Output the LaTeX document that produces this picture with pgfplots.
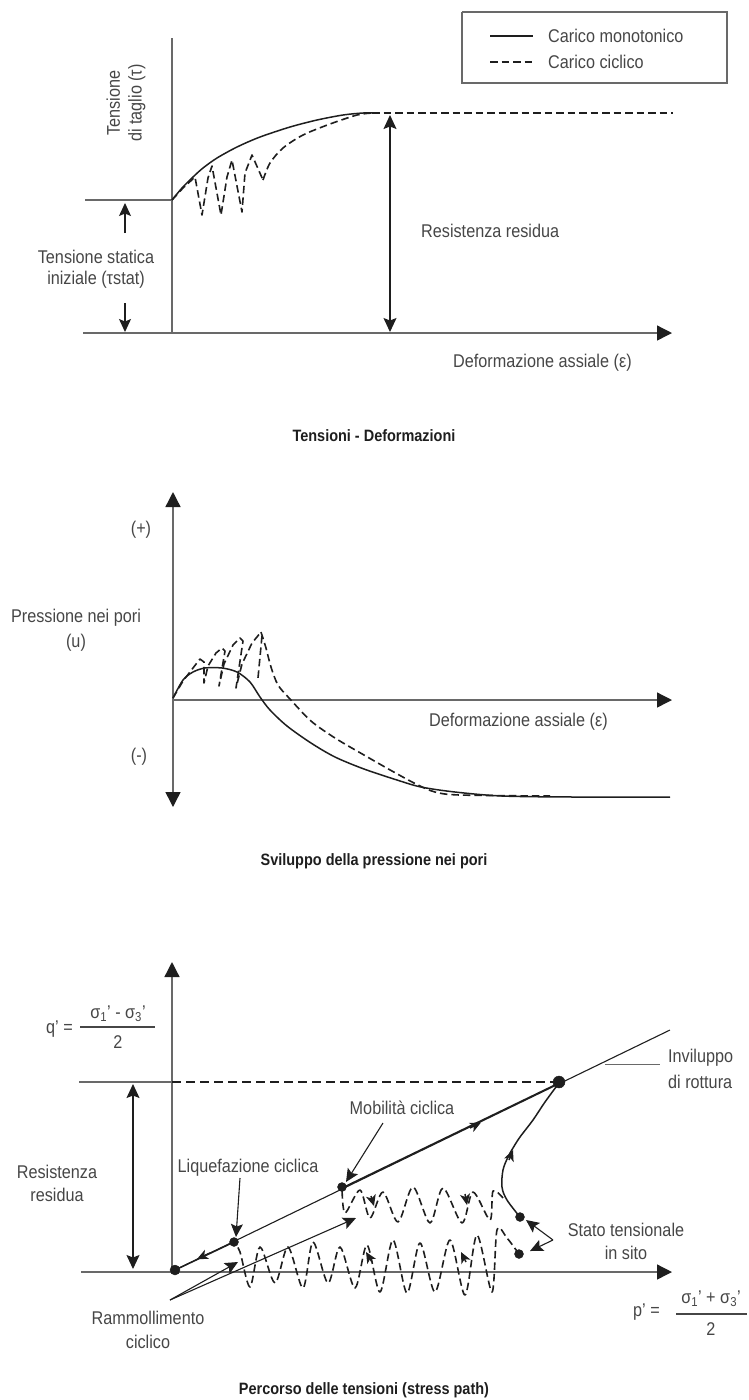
\documentclass[border=0pt]{standalone}
\usepackage{fontspec}
\setmainfont{Liberation Sans}[FakeStretch=0.88]
\usepackage{pgfplots}
\pgfplotsset{compat=1.18}
\usetikzlibrary{arrows.meta}
\definecolor{txt}{RGB}{70,70,70}
\definecolor{axc}{RGB}{105,105,105}
\definecolor{ln}{RGB}{30,30,30}
\tikzset{
 ax/.style={draw=axc, line width=1.4bp},
 crv/.style={draw=ln, line width=1.5bp, line join=round},
 thn/.style={draw=ln, line width=1.1bp},
 dsh/.style={draw=ln, line width=1.6bp, dash pattern=on 7.5bp off 4bp, line join=round},
 lbl/.style={text=txt, font=\fontsize{18.5}{22}\selectfont, inner sep=0pt, align=center},
 ttl/.style={text=ln, font=\fontsize{16.5}{19}\selectfont\bfseries, inner sep=0pt},
 big/.style={-{Triangle[length=15bp,width=15bp,color=ln]}},
 sm/.style={-{Stealth[length=13bp,width=12bp,inset=2.5bp]}},
 smm/.style={-{Stealth[length=11bp,width=10bp,inset=3bp]}},
 dot/.style={only marks, mark=*, mark options={fill=ln, draw=ln}},
}
\begin{document}
\begin{tikzpicture}
\begin{axis}[x=1bp, y=1bp, xmin=0, xmax=749, ymin=0, ymax=1400, y dir=reverse,
  hide axis, clip=false, scale only axis]
\addplot[draw=none] coordinates {(0,0) (749,1400)};
% ================= PANEL 1 =================
\addplot[draw=axc, line width=1.1bp] coordinates {(462,12) (727,12) (727,83) (462,83) (462,12)};
\addplot[thn] coordinates {(490,36) (533,36)};
\addplot[dsh] coordinates {(490,62) (533,62)};
\node[lbl, anchor=west] at (axis cs:548,36) {Carico monotonico};
\node[lbl, anchor=west] at (axis cs:548,62) {Carico ciclico};
\addplot[ax] coordinates {(85,200) (172,200)};
\addplot[ax] coordinates {(172,38) (172,333)};
\addplot[ax, big] coordinates {(83,333) (672,333)};
% monotonic
\addplot[crv, smooth, tension=0.5] coordinates {(172,200) (182,188) (193,177) (203,168) (217,158) (237,147) (260,137) (290,127) (317,120) (343,115) (363,113) (375,113)};
% cyclic
\addplot[dsh] coordinates {(172,200) (183,188) (195,177) (202,215) (208,178) (212,166) (221,215) (227,177) (232,160) (242,212) (245,173) (252,155) (263,180)};
\addplot[dsh, smooth, tension=0.5] coordinates {(263,180) (270,163) (283,148) (303,135) (330,124) (357,115) (372,113)};
\addplot[dsh] coordinates {(372,113) (673,113)};
% arrows
\addplot[draw=ln, line width=1.2bp, {Stealth[length=14bp,width=13bp,inset=2.5bp]}-{Stealth[length=14bp,width=13bp,inset=2.5bp]}] coordinates {(390,115) (390,332)};
\addplot[draw=ln, line width=1.1bp, sm] coordinates {(125,233) (125,203)};
\addplot[draw=ln, line width=1.1bp, sm] coordinates {(125,303) (125,332)};
\node[lbl, rotate=90] at (axis cs:126,103) {Tensione\\di taglio (τ)};
\node[lbl] at (axis cs:96,257) {Tensione statica};
\node[lbl] at (axis cs:96,280) {iniziale (τstat)};
\node[lbl, anchor=west] at (axis cs:421,231) {Resistenza residua};
\node[lbl, anchor=west] at (axis cs:453,363) {Deformazione assiale (ε)};
\node[ttl] at (axis cs:374,436) {Tensioni - Deformazioni};
% ================= PANEL 2 =================
\addplot[ax, {Triangle[length=15bp,width=15bp,color=ln]}-{Triangle[length=15bp,width=15bp,color=ln]}] coordinates {(173,807) (173,492)};
\addplot[ax, big] coordinates {(173,700) (672,700)};
\addplot[crv, smooth, tension=0.5] coordinates {(173,698) (183,680) (193,672) (205,668) (222,668) (237,672) (250,682) (260,697) (270,710) (287,726) (311,743) (335,757) (364,769) (397,780) (421,787) (455,792) (502,796) (574,797) (670,797)};
\addplot[dsh] coordinates {(173,698) (183,681) (193,668) (200,659) (204,662) (204,683) (208,666) (216,653) (222,648) (225,651) (219,686) (224,664) (233,645) (240,638) (243,641) (236,688) (242,664) (252,643) (261,632)};
\addplot[dsh] coordinates {(262,636) (258,678)};
\addplot[dsh, smooth, tension=0.5] coordinates {(261,632) (266,648) (271,667) (278,685) (290,699) (311,721) (335,738) (364,755) (392,771) (416,784) (435,792) (460,795) (550,796)};
\node[lbl] at (axis cs:141,530) {(+)};
\node[lbl] at (axis cs:139,757) {(-)};
\node[lbl] at (axis cs:76,618) {Pressione nei pori};
\node[lbl] at (axis cs:76,643) {(u)};
\node[lbl, anchor=west] at (axis cs:429,722) {Deformazione assiale (ε)};
\node[ttl] at (axis cs:374,861) {Sviluppo della pressione nei pori};
% ================= PANEL 3 =================
\addplot[ax, big] coordinates {(172,1272) (172,962)};
\addplot[ax, big] coordinates {(81,1272) (672,1272)};
\addplot[ax] coordinates {(79,1082) (172,1082)};
\addplot[draw=ln, line width=1.6bp, dash pattern=on 9bp off 5bp] coordinates {(172,1082) (555,1082)};
\addplot[thn] coordinates {(175,1270) (670,1030)};
\addplot[axc, line width=1bp] coordinates {(605,1064) (660,1064)};
% stress paths
\addplot[crv] coordinates {(342,1188) (559,1083)};
\addplot[crv, smm] coordinates {(470,1128) (481,1122.5)};
\addplot[crv] coordinates {(234,1242) (175,1270)};
\addplot[crv, smm] coordinates {(210,1253) (197,1259)};
\addplot[crv, smooth, tension=0.55] coordinates {(520,1217) (507,1200) (502,1187) (503,1170) (508,1157) (513,1148) (520,1137) (533,1120) (545,1102) (559,1083)};
\addplot[crv, smm] coordinates {(509,1160) (513,1150)};
% cyclic upper row
\addplot[dsh, smooth, tension=0.5] coordinates {(503,1198) (493,1191) (490,1220) (473,1192) (462,1223) (443,1188) (430,1223) (413,1187) (398,1222) (383,1192) (370,1218) (360,1190) (345,1213) (342,1188)};
% cyclic lower row
\addplot[dsh, smooth, tension=0.5] coordinates {(519,1254) (507,1238) (497,1230) (492,1292) (477,1235) (465,1295) (450,1240) (435,1292) (420,1243) (407,1293) (393,1240) (380,1292) (367,1245) (355,1288) (340,1247) (328,1283) (313,1242) (303,1288) (288,1247) (275,1283) (260,1247) (250,1287) (240,1252) (234,1242)};
\addplot[crv, smm] coordinates {(371,1196) (374,1206)};
\addplot[crv, smm] coordinates {(465,1194) (467,1205)};
\addplot[crv, smm] coordinates {(372,1262) (366,1252)};
\addplot[crv, smm] coordinates {(466,1262) (461,1252)};
% annotation arrows
\addplot[thn, sm] coordinates {(170,1300) (238,1262)};
\addplot[thn, sm] coordinates {(170,1300) (356,1218)};
\addplot[thn, sm] coordinates {(240,1178) (236,1237)};
\addplot[thn, sm] coordinates {(383,1123) (346,1182)};
\addplot[thn, sm] coordinates {(553,1240) (526,1220)};
\addplot[thn, sm] coordinates {(553,1240) (530,1251)};
\addplot[draw=ln, line width=1.2bp, {Stealth[length=14bp,width=13bp,inset=2.5bp]}-{Stealth[length=14bp,width=13bp,inset=2.5bp]}] coordinates {(133,1084) (133,1269)};
% dots
\addplot[dot, mark size=6bp] coordinates {(559,1082)};
\addplot[dot, mark size=5bp] coordinates {(175,1270)};
\addplot[dot, mark size=4.5bp] coordinates {(234,1242) (342,1187) (520,1217) (519,1254)};
% labels
\node[lbl, anchor=east] at (axis cs:73,1029) {q' =};
\node[lbl] at (axis cs:118,1014) {σ\textsubscript{1}' - σ\textsubscript{3}'};
\addplot[draw=txt, line width=1.1bp] coordinates {(80,1027) (155,1027)};
\node[lbl] at (axis cs:118,1042) {2};
\node[lbl, anchor=east] at (axis cs:660,1312) {p' =};
\node[lbl] at (axis cs:711,1299) {σ\textsubscript{1}' + σ\textsubscript{3}'};
\addplot[draw=txt, line width=1.1bp] coordinates {(676,1314) (747,1314)};
\node[lbl] at (axis cs:711,1329) {2};
\node[lbl, anchor=west] at (axis cs:668,1058) {Inviluppo};
\node[lbl, anchor=west] at (axis cs:668,1082) {di rottura};
\node[lbl] at (axis cs:402,1108) {Mobilità ciclica};
\node[lbl] at (axis cs:248,1168) {Liquefazione ciclica};
\node[lbl] at (axis cs:57,1172) {Resistenza};
\node[lbl] at (axis cs:57,1195) {residua};
\node[lbl] at (axis cs:626,1230) {Stato tensionale};
\node[lbl] at (axis cs:626,1253) {in sito};
\node[lbl] at (axis cs:148,1318) {Rammollimento};
\node[lbl] at (axis cs:148,1342) {ciclico};
\node[ttl] at (axis cs:364,1390) {Percorso delle tensioni (stress path)};
\end{axis}
\pgfresetboundingbox
\path (0,0) rectangle (749bp,1400bp);
\end{tikzpicture}
\end{document}
